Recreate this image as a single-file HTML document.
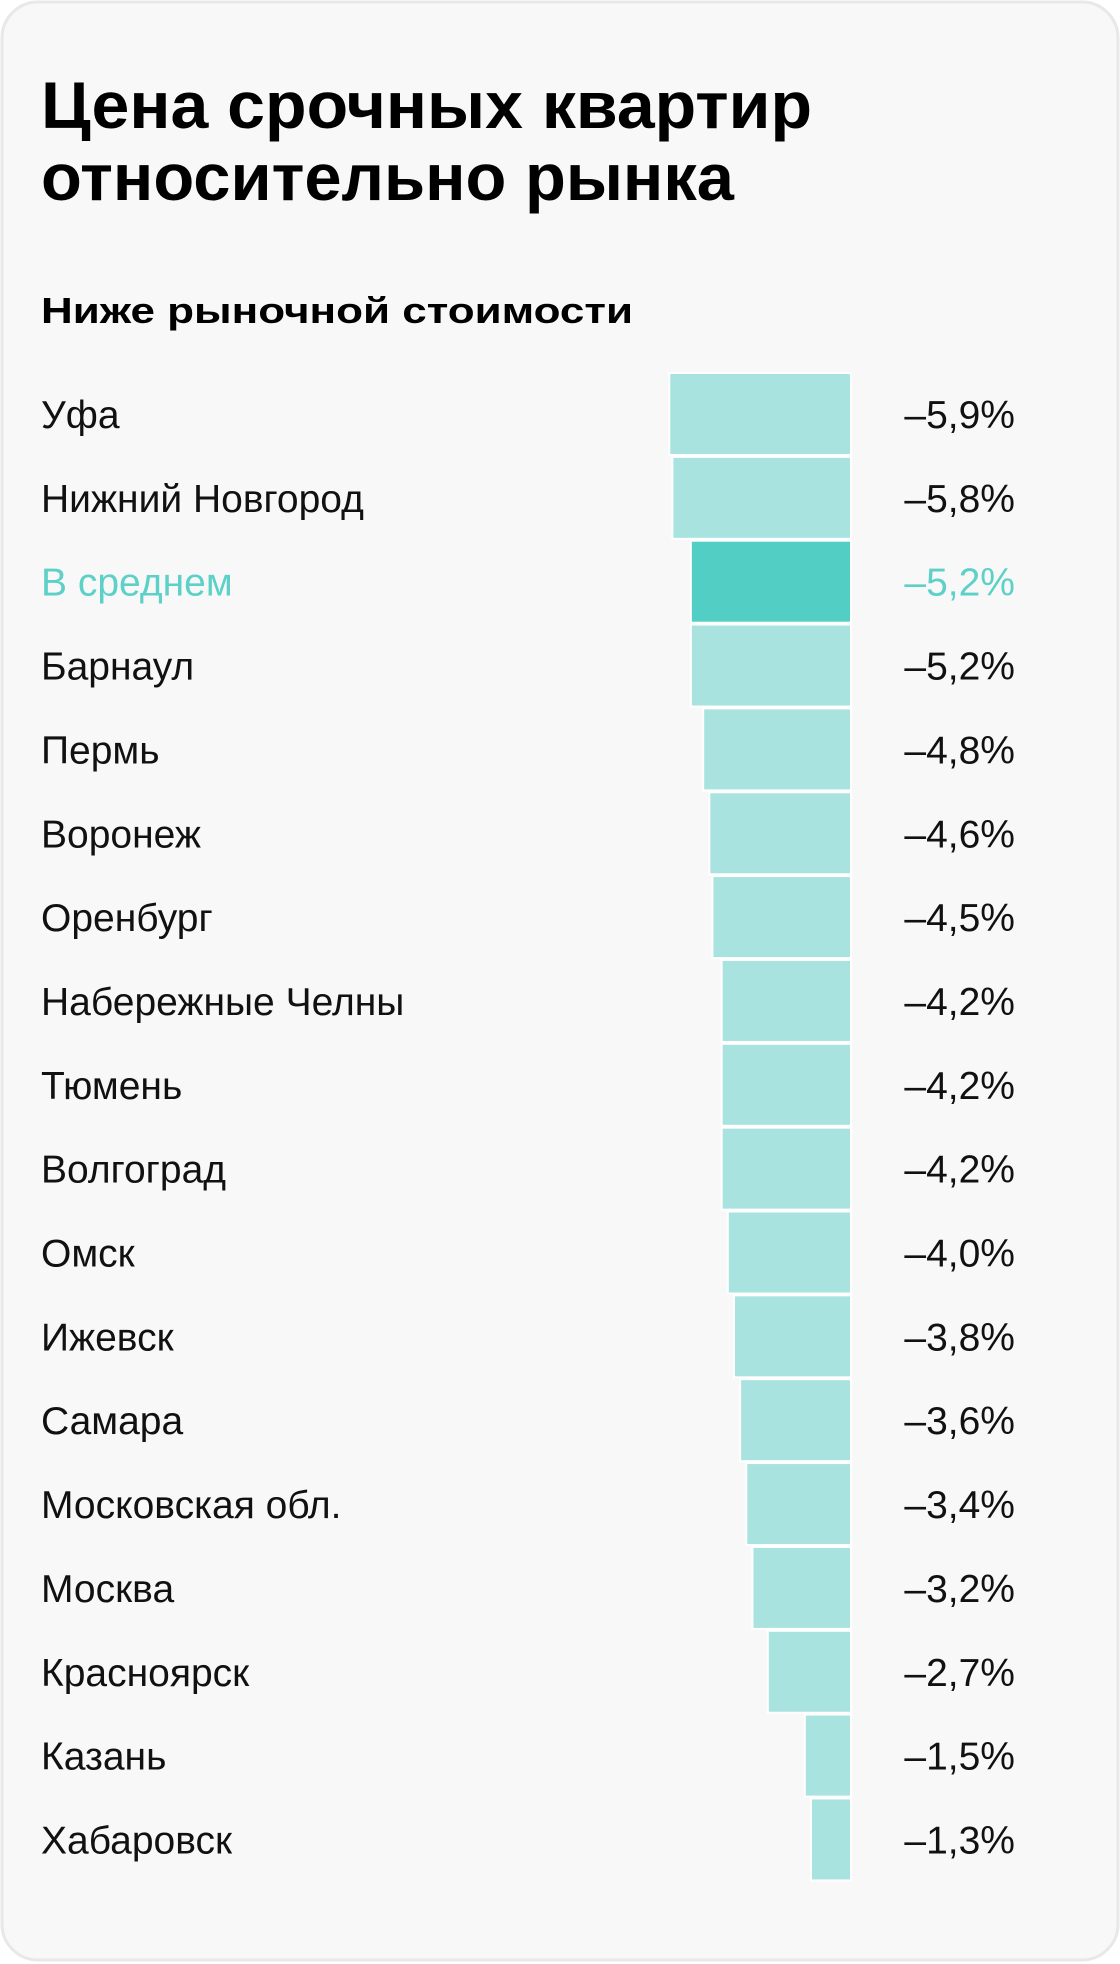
<!DOCTYPE html>
<html><head><meta charset="utf-8"><style>
html,body{margin:0;padding:0;background:#fff;}
svg{display:block;font-family:"Liberation Sans","Noto Sans CJK SC",sans-serif;}
</style></head><body>
<svg width="1120" height="1964" viewBox="0 0 1120 1964">
<rect x="2" y="2" width="1116" height="1958" rx="36" fill="#f8f8f8" stroke="#e8e8e8" stroke-width="3"/>
<text x="41" y="128" font-size="66" font-weight="bold" fill="#000" textLength="771" lengthAdjust="spacingAndGlyphs">Цена срочных квартир</text>
<text x="41" y="200" font-size="66" font-weight="bold" fill="#000" textLength="693" lengthAdjust="spacingAndGlyphs">относительно рынка</text>
<text x="41" y="323" font-size="36" font-weight="bold" fill="#000" textLength="592" lengthAdjust="spacingAndGlyphs">Ниже рыночной стоимости</text>
<g id="bars"></g>
</svg>
<script>
const categories = ["Уфа","Нижний Новгород","В среднем","Барнаул","Пермь","Воронеж","Оренбург","Набережные Челны","Тюмень","Волгоград","Омск","Ижевск","Самара","Московская обл.","Москва","Красноярск","Казань","Хабаровск"];
const values = [-5.9,-5.8,-5.2,-5.2,-4.8,-4.6,-4.5,-4.2,-4.2,-4.2,-4.0,-3.8,-3.6,-3.4,-3.2,-2.7,-1.5,-1.3];
const highlight = "В среднем";

const NS = "http://www.w3.org/2000/svg";
const g = document.getElementById("bars");
const x0 = 851, pxPerUnit = 30.8;
const top0 = 373, pitch = 83.85, barH = 82;
function xScale(v){ return x0 - Math.abs(v) * pxPerUnit; }
function yScale(i){ return top0 + i * pitch; }
function fmt(v){ return "\u2013" + Math.abs(v).toFixed(1).replace(".", ",") + "%"; }

categories.forEach((c, i) => {
  const v = values[i];
  const isAvg = c === highlight;
  const y = yScale(i);
  const r = document.createElementNS(NS, "rect");
  r.setAttribute("x", xScale(v));
  r.setAttribute("y", y);
  r.setAttribute("width", x0 - xScale(v));
  r.setAttribute("height", barH);
  r.setAttribute("fill", isAvg ? "#52cec4" : "#a8e3df");
  r.setAttribute("stroke", "#ffffff");
  r.setAttribute("stroke-width", "2");
  
  
  g.appendChild(r);

  const t = document.createElementNS(NS, "text");
  t.setAttribute("x", 41);
  t.setAttribute("y", y + barH / 2 + 14);
  t.setAttribute("font-size", "39");
  t.setAttribute("fill", isAvg ? "#5dd1c8" : "#111");
  t.textContent = c;
  
  
  g.appendChild(t);

  const vt = document.createElementNS(NS, "text");
  vt.setAttribute("x", 1015);
  vt.setAttribute("y", y + barH / 2 + 14);
  vt.setAttribute("font-size", "39");
  vt.setAttribute("text-anchor", "end");
  vt.setAttribute("fill", isAvg ? "#5dd1c8" : "#111");
  vt.textContent = fmt(v);
  
  
  g.appendChild(vt);
});
</script>
</body></html>
